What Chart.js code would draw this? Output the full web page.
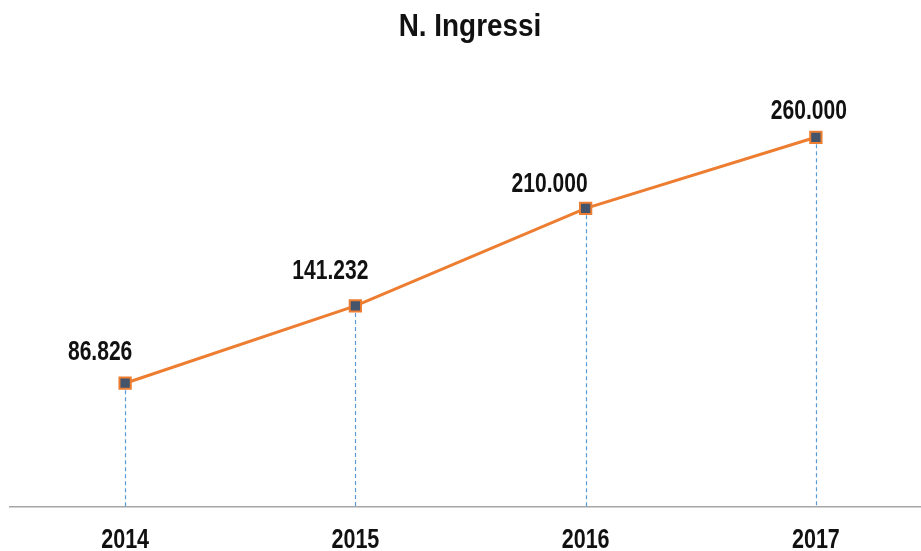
<!DOCTYPE html>
<html>
<head>
<meta charset="utf-8">
<script src="https://cdn.jsdelivr.net/npm/chart.js@4/dist/chart.umd.min.js"></script>
<style>
  html, body { margin: 0; padding: 0; background: #fff; overflow: hidden; }
  #wrap { width: 931px; height: 551px; }
</style>
</head>
<body>
<div id="wrap"><canvas id="ingressiChart" width="931" height="551"></canvas></div>
<script>
const years = ['2014', '2015', '2016', '2017'];
const ingressi = [86826, 141232, 210000, 260000];
const titleText = 'N. Ingressi';

// where each value label sits relative to its point
const labelDx = [-25, -25, -36, -7];
const labelDy = [-31, -34, -24, -26];

const FONT = '"Liberation Sans", Arial, sans-serif';

function fmtIt(n) {
  return String(n).replace(/\B(?=(\d{3})+(?!\d))/g, '.');
}

// condensed bold text: regular bold face squeezed horizontally
function narrowText(ctx, text, x, y, size, sx) {
  ctx.save();
  ctx.translate(x, y);
  ctx.scale(sx, 1);
  ctx.font = 'bold ' + size + 'px ' + FONT;
  ctx.fillStyle = '#111';
  ctx.textAlign = 'center';
  ctx.textBaseline = 'middle';
  ctx.fillText(text, 0, 0);
  ctx.restore();
}

const dropLines = {
  id: 'dropLines',
  beforeDatasetsDraw(chart) {
    const ctx = chart.ctx;
    const meta = chart.getDatasetMeta(0);
    const bottom = chart.chartArea.bottom;
    ctx.save();
    ctx.strokeStyle = '#5b9bd5';
    ctx.lineWidth = 1.2;
    ctx.setLineDash([4, 3]);
    meta.data.forEach(pt => {
      ctx.beginPath();
      ctx.moveTo(Math.round(pt.x) + 0.5, pt.y);
      ctx.lineTo(Math.round(pt.x) + 0.5, bottom);
      ctx.stroke();
    });
    ctx.restore();
  }
};

const textLayer = {
  id: 'textLayer',
  afterDraw(chart) {
    const ctx = chart.ctx;
    const meta = chart.getDatasetMeta(0);
    const xScale = chart.scales.x;
    meta.data.forEach((pt, i) => {
      narrowText(ctx, fmtIt(ingressi[i]), pt.x + labelDx[i], pt.y + labelDy[i], 27, 0.78);
    });
    years.forEach((y, i) => {
      narrowText(ctx, y, xScale.getPixelForTick(i), chart.chartArea.bottom + 34, 28, 0.77);
    });
    narrowText(ctx, titleText, 470, 27, 31, 0.9);
  }
};

new Chart(document.getElementById('ingressiChart'), {
  type: 'line',
  data: {
    labels: years,
    datasets: [{
      data: ingressi,
      borderColor: '#ed7d31',
      borderWidth: 3,
      pointStyle: 'rect',
      pointRadius: 8,
      pointHoverRadius: 8,
      pointBackgroundColor: '#44546a',
      pointBorderColor: '#ed7d31',
      pointBorderWidth: 2,
      tension: 0,
      fill: false
    }]
  },
  options: {
    responsive: false,
    animation: false,
    layout: {
      autoPadding: false,
      padding: { left: 10, right: 0, top: 80.5, bottom: 44.5 }
    },
    plugins: {
      legend: { display: false },
      tooltip: { enabled: false },
      title: { display: false }
    },
    scales: {
      x: {
        type: 'category',
        offset: true,
        grid: { display: false, drawTicks: false },
        border: { display: true, color: '#a6a6a6', width: 1.5 },
        ticks: { display: false }
      },
      y: {
        display: false,
        min: 0,
        max: 300000
      }
    }
  },
  plugins: [dropLines, textLayer]
});
</script>
</body>
</html>
